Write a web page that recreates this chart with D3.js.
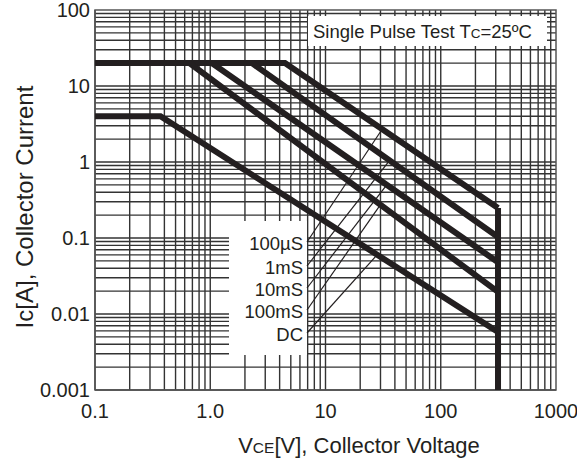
<!DOCTYPE html>
<html>
<head>
<meta charset="utf-8">
<script src="https://cdn.jsdelivr.net/npm/d3@7"></script>
<style>
  body { margin: 0; background: #fff; }
  svg { display: block; font-family: "Liberation Sans", Arial, sans-serif; }
</style>
</head>
<body>
<svg></svg>
<script>
// axis ticks
var xTicks = [0.1, 1, 10, 100, 1000];
var xTickLabels = ["0.1", "1.0", "10", "100", "1000"];
var yTicks = [0.001, 0.01, 0.1, 1, 10, 100];
var yTickLabels = ["0.001", "0.01", "0.1", "1", "10", "100"];

// SOA curves: flat current up to knee voltage, then down to end current at Vce max
var pulseNames = ["100µS", "1mS", "10mS", "100mS", "DC"];
var flatIc = [20, 20, 20, 20, 4];
var kneeVce = [4.45, 2.3, 1.03, 0.66, 0.37];
var endIc = [0.248, 0.103, 0.048, 0.0195, 0.0058];
var vceMax = 314;

// where each label's leader line meets its curve [Vce, Ic]
var leaderEnds = [[31, 2.7], [36, 1.05], [34, 0.5], [30, 0.275], [28, 0.06]];

var width = 577,
  height = 469,
  margin = { top: 10, right: 21, bottom: 79, left: 95 };

var svg = d3.select("svg").attr("width", width).attr("height", height);

var x = d3.scaleLog().domain([0.1, 1000]).range([margin.left, width - margin.right]);
var y = d3.scaleLog().domain([0.001, 100]).range([height - margin.bottom, margin.top]);

// log grid: 1..9 for every decade
var xGrid = [];
for (var d = 0.1; d < 1000; d *= 10) {
  for (var k = 1; k < 10; k++) xGrid.push(d * k);
}
var yGrid = [];
for (var e = 0.001; e < 100; e *= 10) {
  for (var m = 1; m < 10; m++) yGrid.push(e * m);
}

var grid = svg.append("g").attr("stroke", "#333").attr("stroke-width", 1.4);

grid
  .selectAll(".vg")
  .data(xGrid)
  .join("line")
  .attr("x1", (d) => x(d))
  .attr("x2", (d) => x(d))
  .attr("y1", y(0.001))
  .attr("y2", y(100));

grid
  .selectAll(".hg")
  .data(yGrid)
  .join("line")
  .attr("x1", x(0.1))
  .attr("x2", x(1000))
  .attr("y1", (d) => y(d))
  .attr("y2", (d) => y(d));

svg
  .append("rect")
  .attr("x", x(0.1))
  .attr("y", y(100))
  .attr("width", x(1000) - x(0.1))
  .attr("height", y(0.001) - y(100))
  .attr("fill", "none")
  .attr("stroke", "#555")
  .attr("stroke-width", 1.5);

// white boxes for annotation + legend
svg
  .append("rect")
  .attr("x", 308)
  .attr("y", 16)
  .attr("width", 239)
  .attr("height", 30)
  .attr("fill", "#fff");

svg
  .append("rect")
  .attr("x", 229)
  .attr("y", 221)
  .attr("width", 78)
  .attr("height", 134)
  .attr("fill", "#fff");

// curves
var line = d3
  .line()
  .x((d) => x(d[0]))
  .y((d) => y(d[1]));

var curves = pulseNames.map(function (n, i) {
  return [
    [0.1, flatIc[i]],
    [kneeVce[i], flatIc[i]],
    [vceMax, endIc[i]],
  ];
});

svg
  .append("g")
  .selectAll("path")
  .data(curves)
  .join("path")
  .attr("d", line)
  .attr("fill", "none")
  .attr("stroke", "#231f20")
  .attr("stroke-width", 6)
  .attr("stroke-linejoin", "miter");

svg
  .append("path")
  .attr("d", line([[vceMax, d3.max(endIc)], [vceMax, 0.001]]))
  .attr("stroke", "#231f20")
  .attr("stroke-width", 6);

// legend labels and leader lines
var labelX = 303,
  labelY = [243, 267, 289, 311, 334];

svg
  .append("g")
  .selectAll("line")
  .data(leaderEnds)
  .join("line")
  .attr("x1", labelX + 4)
  .attr("y1", (d, i) => labelY[i] - 1)
  .attr("x2", (d) => x(d[0]))
  .attr("y2", (d) => y(d[1]))
  .attr("stroke", "#231f20")
  .attr("stroke-width", 1.2);

svg
  .append("g")
  .selectAll("text")
  .data(pulseNames)
  .join("text")
  .attr("x", labelX)
  .attr("y", (d, i) => labelY[i])
  .attr("dy", "0.36em")
  .attr("text-anchor", "end")
  .attr("font-size", "18.5px")
  .attr("fill", "#231f20")
  .text((d) => d);

// annotation
var note = svg
  .append("text")
  .attr("x", 313)
  .attr("y", 38)
  .attr("font-size", "18.5px")
  .attr("fill", "#231f20");
note.append("tspan").text("Single Pulse Test T");
note.append("tspan").attr("font-size", "13.5px").text("C");
note.append("tspan").text("=25ºC");

// tick labels
svg
  .append("g")
  .selectAll("text")
  .data(xTicks)
  .join("text")
  .attr("x", (d) => x(d))
  .attr("y", 418)
  .attr("text-anchor", "middle")
  .attr("font-size", "20px")
  .attr("fill", "#231f20")
  .text((d, i) => xTickLabels[i]);

svg
  .append("g")
  .selectAll("text")
  .data(yTicks)
  .join("text")
  .attr("x", 90)
  .attr("y", (d) => y(d))
  .attr("dy", "0.36em")
  .attr("text-anchor", "end")
  .attr("font-size", "20px")
  .attr("fill", "#231f20")
  .text((d, i) => yTickLabels[i]);

// axis titles
var xTitle = svg
  .append("text")
  .attr("x", 359)
  .attr("y", 453)
  .attr("text-anchor", "middle")
  .attr("font-size", "22px")
  .attr("fill", "#231f20");
xTitle.append("tspan").text("V");
xTitle.append("tspan").attr("font-size", "15.5px").text("CE");
xTitle.append("tspan").text("[V], Collector Voltage");

svg
  .append("text")
  .attr("transform", "translate(33,207) rotate(-90)")
  .attr("text-anchor", "middle")
  .attr("font-size", "24px")
  .attr("fill", "#231f20")
  .text("Ic[A], Collector Current");
</script>
</body>
</html>
